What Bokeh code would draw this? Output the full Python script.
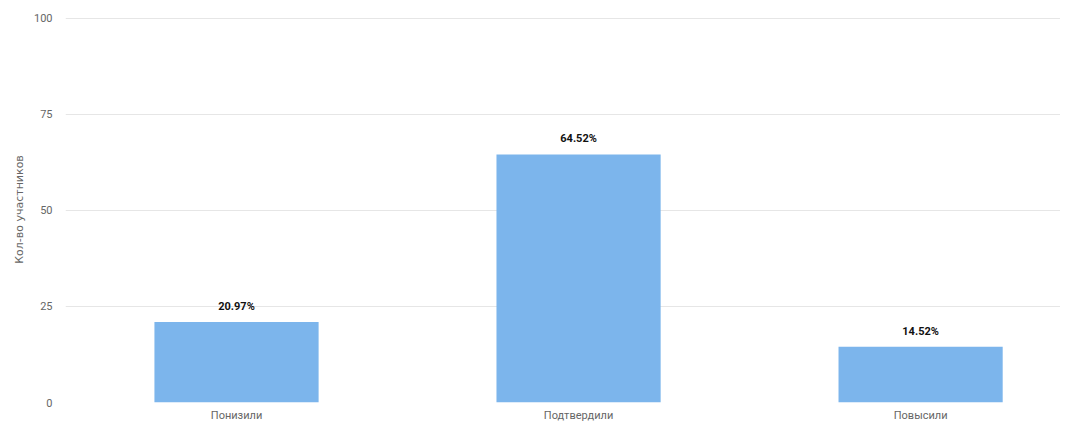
from bokeh.plotting import figure
from bokeh.models import ColumnDataSource, Range1d, FixedTicker, LabelSet
from bokeh.core.properties import value
from bokeh.embed import file_html
from bokeh.resources import INLINE

categories = ["Понизили", "Подтвердили", "Повысили"]
values = [20.97, 64.52, 14.52]
labels = ["20.97%", "64.52%", "14.52%"]
y_ticks = [0, 25, 50, 75, 100]

xpos = [i + 0.5 for i in range(len(categories))]
src = ColumnDataSource(dict(x=xpos, top=values, label=labels))

p = figure(width=1060, height=424, output_backend="svg", toolbar_location=None,
           x_range=Range1d(0, 2.909), y_range=Range1d(0, 100.4),
           min_border_left=65, min_border_right=0, min_border_top=16, min_border_bottom=21)
p.outline_line_color = None
p.background_fill_color = "white"

p.vbar(x="x", top="top", bottom=0, width=0.48, source=src,
       fill_color="#7cb5ec", line_color=None)

p.add_layout(LabelSet(x="x", y="top", text="label", source=src,
                      text_align="center", text_baseline="bottom", y_offset=9,
                      text_font=value("Roboto"), text_font_style="bold",
                      text_font_size="11px", text_color="#111111"))

p.xaxis.ticker = FixedTicker(ticks=xpos)
p.xaxis.major_label_overrides = {x: c for x, c in zip(xpos, categories)}
p.xaxis.axis_line_color = None
p.xaxis.major_tick_line_color = None
p.xaxis.minor_tick_line_color = None
p.xaxis.major_tick_in = 0
p.xaxis.major_tick_out = 0
p.xaxis.major_label_standoff = 6
p.xaxis.major_label_text_font = "Roboto"
p.xaxis.major_label_text_font_size = "11px"
p.xaxis.major_label_text_color = "#666666"
p.xgrid.grid_line_color = None

p.yaxis.ticker = FixedTicker(ticks=y_ticks)
p.yaxis.axis_line_color = None
p.yaxis.major_tick_line_color = None
p.yaxis.minor_tick_line_color = None
p.yaxis.major_tick_in = 0
p.yaxis.major_tick_out = 0
p.yaxis.major_label_standoff = 13
p.yaxis.major_label_text_font = "Roboto"
p.yaxis.major_label_text_font_size = "11px"
p.yaxis.major_label_text_color = "#666666"
p.yaxis.axis_label = "Кол-во участников"
p.yaxis.axis_label_text_font = "DejaVu Sans"
p.yaxis.axis_label_text_font_style = "normal"
p.yaxis.axis_label_text_font_size = "11px"
p.yaxis.axis_label_text_color = "#666666"
p.yaxis.axis_label_standoff = 5
p.ygrid.grid_line_color = "#e6e6e6"
p.ygrid.grid_line_width = 1

open("out.html", "w").write(file_html(p, INLINE))
